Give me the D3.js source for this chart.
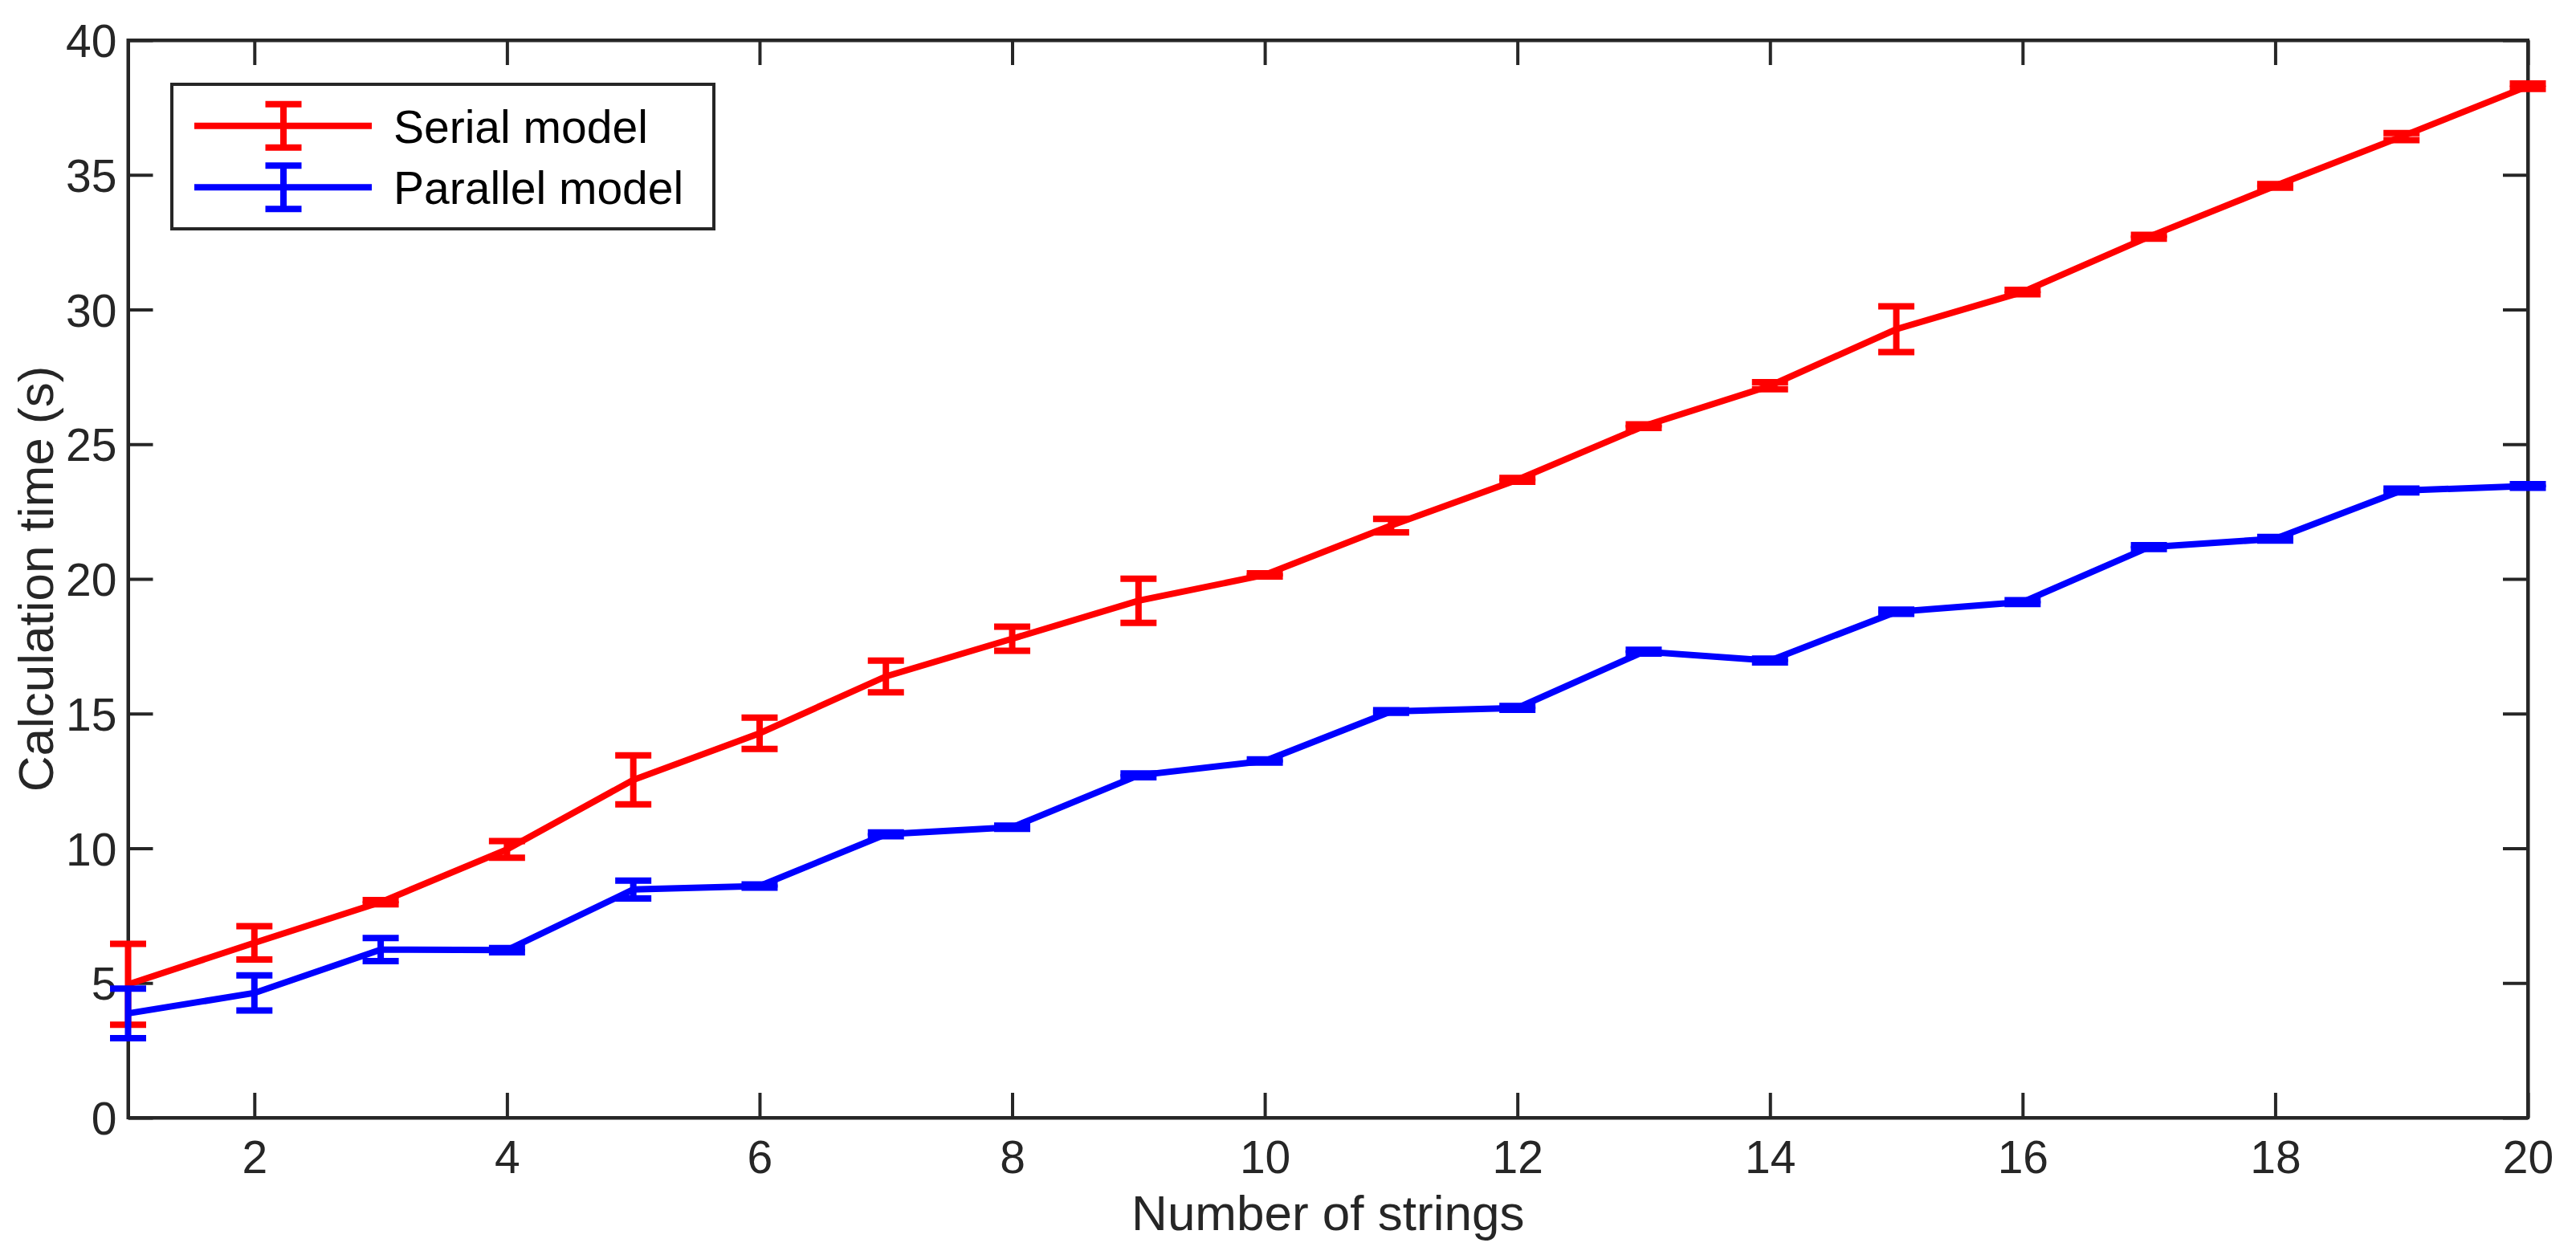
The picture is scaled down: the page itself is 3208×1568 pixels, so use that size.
<!DOCTYPE html>
<html>
<head>
<meta charset="utf-8">
<script src="https://cdn.jsdelivr.net/npm/d3@7"></script>
<style>
  html, body { margin: 0; padding: 0; background: #ffffff; }
  svg { display: block; }
  text { font-family: "Liberation Sans", Arial, Helvetica, sans-serif; }
</style>
</head>
<body>
<svg id="chart" width="3208" height="1568"></svg>
<script>
// ---- Data ----
const strings = [1,2,3,4,5,6,7,8,9,10,11,12,13,14,15,16,17,18,19,20];
const serialMean = [4.95, 6.49, 8.00, 9.96, 12.54, 14.27, 16.38, 17.78, 19.19, 20.15,
                    21.98, 23.68, 25.67, 27.17, 29.27, 30.65, 32.70, 34.59, 36.42, 38.29];
const serialErr  = [1.50, 0.62, 0.08, 0.31, 0.91, 0.58, 0.59, 0.45, 0.82, 0.06,
                    0.25, 0.07, 0.07, 0.13, 0.85, 0.08, 0.07, 0.07, 0.13, 0.10];
const parallelMean = [3.87, 4.63, 6.24, 6.22, 8.47, 8.60, 10.52, 10.78, 12.71, 13.24,
                      15.08, 15.21, 17.30, 16.97, 18.78, 19.14, 21.18, 21.49, 23.28, 23.45];
const parallelErr  = [0.92, 0.65, 0.43, 0.08, 0.33, 0.06, 0.07, 0.06, 0.07, 0.06,
                      0.05, 0.07, 0.07, 0.07, 0.08, 0.07, 0.07, 0.07, 0.07, 0.07];
const xTicks = [2,4,6,8,10,12,14,16,18,20];
const yTicks = [0,5,10,15,20,25,30,35,40];
const seriesNames = ["Serial model", "Parallel model"];
const seriesColors = ["#ff0000", "#0000ff"];
const xLabel = "Number of strings";
const yLabel = "Calculation time (s)";

// ---- Layout ----
const pLeft = 159.5, pRight = 3148, pTop = 50, pBottom = 1392;
const axisColor = "#262626";
const tickFont = 57, labelFont = 62;

const svg = d3.select("#chart");
const x = d3.scaleLinear().domain([1, 20]).range([pLeft, pRight]);
const y = d3.scaleLinear().domain([0, 40]).range([pBottom, pTop]);

// Axes
function styleAxis(g) {
  g.selectAll(".domain").attr("stroke", axisColor).attr("stroke-width", 4);
  g.selectAll(".tick line").attr("stroke", axisColor).attr("stroke-width", 4);
  g.selectAll(".tick text").attr("fill", axisColor)
    .style("font-size", tickFont + "px")
    .style("font-family", '"Liberation Sans", Arial, Helvetica, sans-serif');
}
const gx = svg.append("g").attr("transform", `translate(0,${pBottom})`)
  .call(d3.axisBottom(x).tickValues(xTicks).tickFormat(d3.format("d"))
        .tickSizeInner(-31).tickSizeOuter(0).tickPadding(29));
styleAxis(gx);
const gxt = svg.append("g").attr("transform", `translate(0,${pTop})`)
  .call(d3.axisTop(x).tickValues(xTicks).tickFormat("")
        .tickSizeInner(-31).tickSizeOuter(0));
styleAxis(gxt);
const gy = svg.append("g").attr("transform", `translate(${pLeft},0)`)
  .call(d3.axisLeft(y).tickValues(yTicks).tickFormat(d3.format("d"))
        .tickSizeInner(-31).tickSizeOuter(0).tickPadding(14));
styleAxis(gy);
gy.selectAll(".tick text").attr("dy", "0.36em");
const gyr = svg.append("g").attr("transform", `translate(${pRight},0)`)
  .call(d3.axisRight(y).tickValues(yTicks).tickFormat("")
        .tickSizeInner(-31).tickSizeOuter(0));
styleAxis(gyr);
svg.append("rect").attr("x", pLeft).attr("y", pTop)
  .attr("width", pRight - pLeft).attr("height", pBottom - pTop)
  .attr("fill", "none").attr("stroke", axisColor).attr("stroke-width", 4);

// Axis titles
svg.append("text").attr("x", (pLeft + pRight) / 2).attr("y", 1532)
  .attr("text-anchor", "middle").attr("fill", axisColor)
  .style("font-size", labelFont + "px").text(xLabel);
svg.append("text")
  .attr("transform", `translate(66,${(pTop + pBottom) / 2}) rotate(-90)`)
  .attr("text-anchor", "middle").attr("fill", axisColor)
  .style("font-size", labelFont + "px").text(yLabel);

// Series
const series = [
  { name: seriesNames[0], color: seriesColors[0], mean: serialMean, err: serialErr },
  { name: seriesNames[1], color: seriesColors[1], mean: parallelMean, err: parallelErr }
];
const capHalf = 22.5, lw = 8;
const line = d3.line().x(d => x(d.x)).y(d => y(d.v));

series.forEach(s => {
  const pts = strings.map((xs, i) => ({ x: xs, v: s.mean[i], e: s.err[i] }));
  const g = svg.append("g");
  g.append("path").datum(pts).attr("d", line)
    .attr("fill", "none").attr("stroke", s.color).attr("stroke-width", lw)
    .attr("stroke-linejoin", "miter");
  const eb = g.selectAll(".eb").data(pts).enter().append("g");
  eb.append("line")
    .attr("x1", d => x(d.x)).attr("x2", d => x(d.x))
    .attr("y1", d => y(d.v - d.e)).attr("y2", d => y(d.v + d.e))
    .attr("stroke", s.color).attr("stroke-width", lw);
  eb.append("line")
    .attr("x1", d => x(d.x) - capHalf).attr("x2", d => x(d.x) + capHalf)
    .attr("y1", d => y(d.v + d.e)).attr("y2", d => y(d.v + d.e))
    .attr("stroke", s.color).attr("stroke-width", lw);
  eb.append("line")
    .attr("x1", d => x(d.x) - capHalf).attr("x2", d => x(d.x) + capHalf)
    .attr("y1", d => y(d.v - d.e)).attr("y2", d => y(d.v - d.e))
    .attr("stroke", s.color).attr("stroke-width", lw);
});

// Legend
const lg = svg.append("g");
lg.append("rect").attr("x", 214).attr("y", 105).attr("width", 675).attr("height", 180)
  .attr("fill", "#ffffff").attr("stroke", axisColor).attr("stroke-width", 4);
series.forEach((s, i) => {
  const cy = 156.7 + i * 76.5;
  lg.append("line").attr("x1", 242).attr("x2", 463).attr("y1", cy).attr("y2", cy)
    .attr("stroke", s.color).attr("stroke-width", lw);
  lg.append("line").attr("x1", 353).attr("x2", 353).attr("y1", cy - 27).attr("y2", cy + 27)
    .attr("stroke", s.color).attr("stroke-width", lw);
  lg.append("line").attr("x1", 353 - capHalf).attr("x2", 353 + capHalf).attr("y1", cy - 27).attr("y2", cy - 27)
    .attr("stroke", s.color).attr("stroke-width", lw);
  lg.append("line").attr("x1", 353 - capHalf).attr("x2", 353 + capHalf).attr("y1", cy + 27).attr("y2", cy + 27)
    .attr("stroke", s.color).attr("stroke-width", lw);
  lg.append("text").attr("x", 490).attr("y", cy + 21)
    .attr("fill", "#000000").style("font-size", tickFont + "px").text(s.name);
});
</script>
</body>
</html>
